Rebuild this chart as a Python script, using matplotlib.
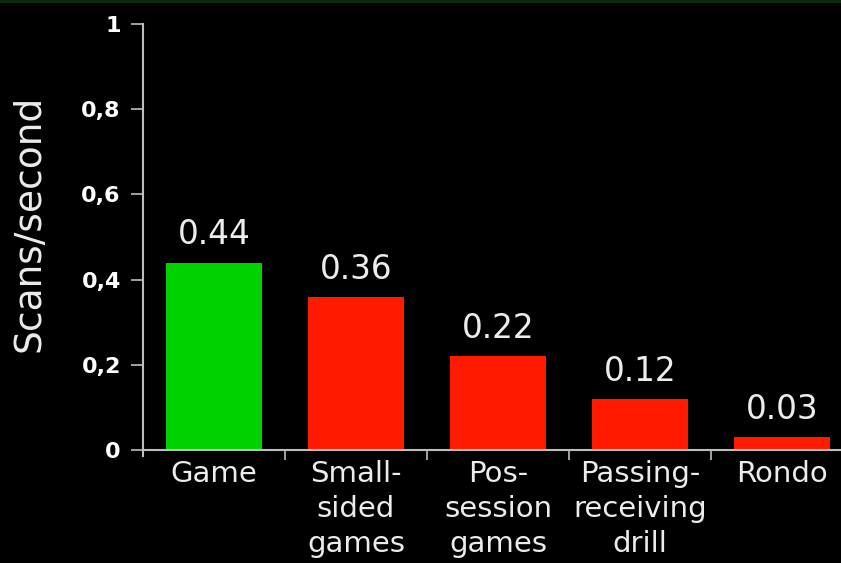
import matplotlib.pyplot as plt
from matplotlib.patches import Rectangle

plt.rcParams['font.family'] = ['DejaVu Sans']

categories = ['Game', 'Small-\nsided\ngames', 'Pos-\nsession\ngames', 'Passing-\nreceiving\ndrill', 'Rondo']
values = [0.44, 0.36, 0.22, 0.12, 0.03]
value_labels = ['0.44', '0.36', '0.22', '0.12', '0.03']
bar_colors = ['#00d200', '#ff1a00', '#ff1a00', '#ff1a00', '#ff1a00']
yticks = [0, 0.2, 0.4, 0.6, 0.8, 1]
ytick_labels = ['0', '0,2', '0,4', '0,6', '0,8', '1']

txt = '#ececec'
axc = '#bdbdbd'

fig = plt.figure(figsize=(8.41, 5.63), dpi=100, facecolor='black')
fig.patches.append(Rectangle((0, 0.994), 1, 0.006, transform=fig.transFigure,
                             facecolor='#0a2a0a', edgecolor='none'))
ax = fig.add_axes([143 / 841, 113 / 563, 710 / 841, 426 / 563])
ax.set_facecolor('black')

x = range(len(categories))
ax.bar(x, values, width=0.67, color=bar_colors, edgecolor='none')
for i, (v, lab) in enumerate(zip(values, value_labels)):
    ax.annotate(lab, (i, v), xytext=(0, 8), textcoords='offset points',
                ha='center', va='bottom', fontsize=23.5, color=txt)

ax.set_xlim(-0.5, len(categories) - 0.5)
ax.set_ylim(0, 1)
ax.set_yticks(yticks)
ax.set_yticklabels(ytick_labels, fontsize=16, fontweight='bold', color='white')
ax.set_xticks(list(x))
ax.set_xticklabels(categories, fontsize=21, color=txt, linespacing=1.32, va='top')
ax.tick_params(axis='x', length=0, pad=7)
ax.set_xticks([i + 0.5 for i in range(len(categories) - 1)], minor=True)
ax.tick_params(axis='x', which='minor', length=7, width=1.2, color=axc, direction='out')
ax.tick_params(axis='y', length=9, width=1.2, color=axc, pad=7)

for s in ['top', 'right']:
    ax.spines[s].set_visible(False)
ax.spines['left'].set_color(axc)
ax.spines['bottom'].set_color(axc)
ax.spines['left'].set_linewidth(1.5)
ax.spines['bottom'].set_linewidth(1.5)
ax.spines['left'].set_bounds(-0.015, 1)

fig.text(30 / 841, 1 - 223 / 563, 'Scans/second', rotation=90, ha='center', va='center',
         fontsize=27, color=txt)

fig.savefig('out.png', dpi=100, facecolor='black')
